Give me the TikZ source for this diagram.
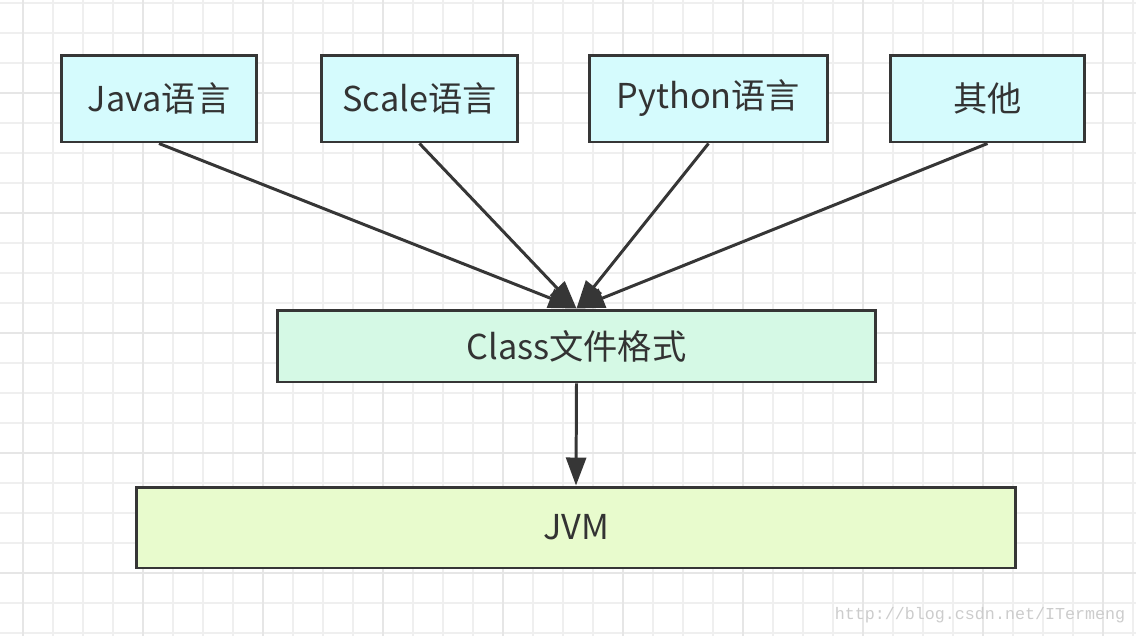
\documentclass[tikz,border=0pt]{standalone}
\usepackage{fontspec}
\setmainfont{Noto Sans CJK SC}
\newfontfamily\wmfont{Liberation Mono}
\usetikzlibrary{arrows.meta}
\definecolor{edgec}{HTML}{363636}
\definecolor{txtc}{HTML}{333333}
\definecolor{gridc}{HTML}{EFEFEF}
\definecolor{gridd}{HTML}{E6E6E6}
\definecolor{langfill}{HTML}{D5FBFD}
\definecolor{clsfill}{HTML}{D5F9E5}
\definecolor{jvmfill}{HTML}{E8FBCD}

\begin{document}
\begin{tikzpicture}[x=0.02cm,y=-0.02cm,
    box/.style={draw=edgec,line width=1.7pt,text=txtc,inner sep=0pt,
        font=\fontsize{19.5}{23}\selectfont,minimum height=1.74cm},
    arr/.style={draw=edgec,line width=1.7pt,-{Triangle[length=0.56cm,width=0.4cm]}}]
            \useasboundingbox (0,0) rectangle (1136,636);
            \fill[white] (0,0) rectangle (1136,636);

            % grid
            \foreach \x in {23,53,...,1133} \draw[gridc,line width=1.1pt] (\x,0) -- (\x,636);
            \foreach \y in {3,33,...,633} \draw[gridc,line width=1.1pt] (0,\y) -- (1136,\y);
            \foreach \x in {23,143,...,1133} \draw[gridd,line width=1.1pt] (\x,0) -- (\x,636);
            \foreach \y in {93,213,...,633} \draw[gridd,line width=1.1pt] (0,\y) -- (1136,\y);

            \node (java) at (159,98.5) [box,fill=langfill,minimum width=3.92cm] {Java语言};
            \node (scale) at (419.5,98.5) [box,fill=langfill,minimum width=3.94cm] {Scale语言};
            \node (py) at (708.5,98.5) [box,fill=langfill,minimum width=4.78cm] {Python语言};
            \node (other) at (987.5,98.5) [box,fill=langfill,minimum width=3.90cm] {其他};
            \node (cls) at (576.5,346) [box,fill=clsfill,minimum width=11.98cm,minimum height=1.44cm] {Class文件格式};
            \node (jvm) at (576,527.5) [box,fill=jvmfill,minimum width=17.60cm,minimum height=1.62cm] {JVM};

            \node (wm) at (980,615) [text=black!20,font=\wmfont\fontsize{9.5}{11}\selectfont] {http://blog.csdn.net/ITermeng};

            \draw[arr] (java.south) -- (cls.north);
            \draw[arr] (scale.south) -- (cls.north);
            \draw[arr] (py.south) -- (cls.north);
            \draw[arr] (other.south) -- (cls.north);
            \draw[arr] (cls.south) -- (jvm.north);

        \end{tikzpicture}
\end{document}
